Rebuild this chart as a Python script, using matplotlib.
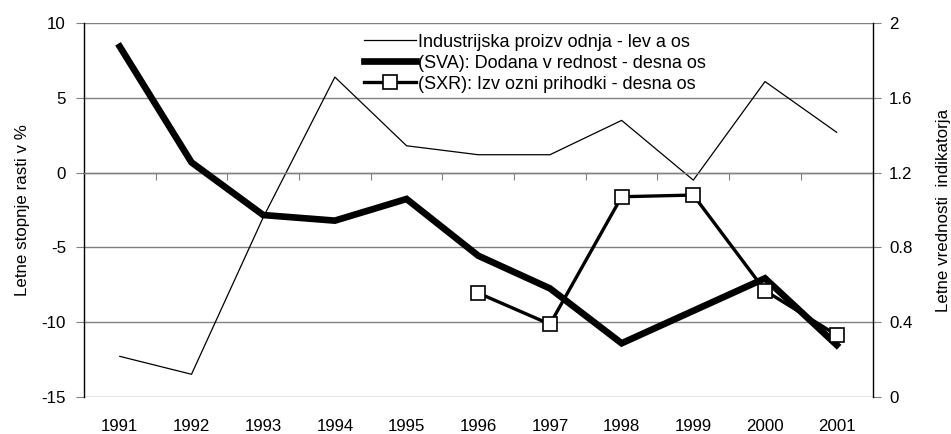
import matplotlib
matplotlib.use("Agg")
import matplotlib.pyplot as plt
import numpy as np

plt.rcParams['font.family'] = ['Liberation Sans', 'DejaVu Sans']

years = ['1991', '1992', '1993', '1994', '1995', '1996', '1997', '1998', '1999', '2000', '2001']
industrija = [-12.3, -13.5, -3.0, 6.4, 1.8, 1.2, 1.2, 3.5, -0.5, 6.1, 2.7]
sva = [1.875, 1.255, 0.973, 0.943, 1.059, 0.755, 0.58, 0.286, 0.46, 0.634, 0.277]
sxr_years = ['1996', '1997', '1998', '1999', '2000', '2001']
sxr = [0.555, 0.388, 1.071, 1.080, 0.568, 0.33]

left_ticks = [-15, -10, -5, 0, 5, 10]
right_ticks = [0, 0.4, 0.8, 1.2, 1.6, 2]
right_labels = ['0', '0.4', '0.8', '1.2', '1.6', '2']

labels = ['Industrijska proizv odnja - lev a os',
          '(SVA): Dodana v rednost - desna os',
          '(SXR): Izv ozni prihodki - desna os']

fs = 12.2
fig = plt.figure(figsize=(9.51, 4.34), dpi=100)
ax = fig.add_axes([0.0883, 0.086, 0.9175 - 0.0883, 0.9463 - 0.086])
x = np.arange(len(years))
xs = np.array([years.index(y) for y in sxr_years])

ax.set_xlim(-0.5, len(years) - 0.5)
ax.set_ylim(-15, 10)
ax.set_yticks(left_ticks)
ax.set_yticklabels([str(v) for v in left_ticks], fontsize=fs)
ax.grid(axis='y', color='#808080', linewidth=1.0)
ax.set_axisbelow(True)
for s in ['top', 'right']:
    ax.spines[s].set_visible(False)
ax.spines['left'].set_color('black')
ax.spines['left'].set_linewidth(1.0)
ax.spines['bottom'].set_position(('data', 0))
ax.spines['bottom'].set_color('#808080')
ax.spines['bottom'].set_linewidth(1.0)
ax.set_xticks(np.arange(len(years) + 1) - 0.5)
ax.tick_params(axis='x', direction='out', length=5, color='#808080', labelbottom=False)
ax.tick_params(axis='y', direction='out', length=6, color='#808080', pad=7)
ax.set_ylabel('Letne stopnje rasti v %', fontsize=fs, labelpad=8)

sec = ax.secondary_xaxis('bottom')
sec.set_xticks(x)
sec.set_xticklabels(years, fontsize=fs)
sec.tick_params(length=0, pad=16)
sec.spines['bottom'].set_visible(False)

l1, = ax.plot(x, industrija, color='black', linewidth=0.9)

ax2 = ax.twinx()
ax2.set_ylim(0, 2)
ax2.set_yticks(right_ticks)
ax2.set_yticklabels(right_labels, fontsize=fs)
for s in ['top', 'left', 'bottom']:
    ax2.spines[s].set_visible(False)
ax2.spines['right'].set_color('black')
ax2.spines['right'].set_linewidth(1.0)
ax2.tick_params(axis='y', direction='out', length=6, color='#808080', pad=6)
ax2.set_ylabel('Letne vrednosti  indikatorja', fontsize=fs, labelpad=17)

l2, = ax2.plot(x, sva, color='black', linewidth=4.8, solid_joinstyle='miter')
l3, = ax2.plot(xs, sxr, color='black', linewidth=2.4, marker='s', markersize=10.5,
               markerfacecolor='white', markeredgecolor='black', markeredgewidth=1.2)

leg = ax2.legend([l1, l2, l3], labels, loc='upper left', bbox_to_anchor=(0.355, 0.972),
                 frameon=False, fontsize=13, handlelength=2.9, handletextpad=0.1,
                 labelspacing=0.22, borderpad=0, borderaxespad=0)

fig.savefig('out.png', dpi=100)
